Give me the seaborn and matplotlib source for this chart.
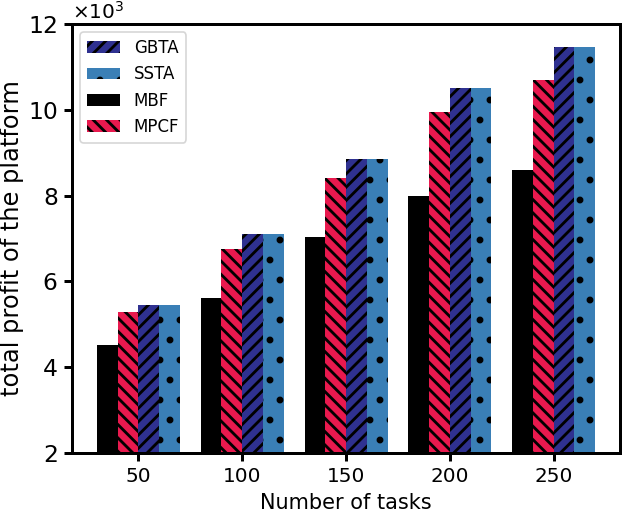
import matplotlib
matplotlib.use('Agg')
import matplotlib.pyplot as plt
import seaborn as sns
import pandas as pd
from matplotlib.patches import Patch

# ---- data ----
tasks = [50, 100, 150, 200, 250]
methods = ['MBF', 'MPCF', 'GBTA', 'SSTA']
mbf = [4520, 5620, 7030, 7980, 8600]
mpcf = [5280, 6760, 8410, 9950, 10690]
gbta = [5450, 7100, 8850, 10510, 11470]
ssta = [5450, 7100, 8850, 10510, 11470]
legend_order = ['GBTA', 'SSTA', 'MBF', 'MPCF']

colors = {'MBF': '#000000', 'MPCF': '#e8194e', 'GBTA': '#2f3190', 'SSTA': '#3a7fb6'}
hatches = {'MBF': '', 'MPCF': '\\\\\\', 'GBTA': '///', 'SSTA': '.'}

values = {'MBF': mbf, 'MPCF': mpcf, 'GBTA': gbta, 'SSTA': ssta}
rows = []
for m in methods:
    for t, v in zip(tasks, values[m]):
        rows.append({'tasks': t, 'profit': v, 'method': m})
df = pd.DataFrame(rows)

plt.rcParams['hatch.linewidth'] = 1.7
plt.rcParams['hatch.color'] = 'black'
plt.rcParams['font.family'] = ['DejaVu Sans']

fig = plt.figure(figsize=(622 / 120, 512 / 120), dpi=120)
ax = fig.add_axes([0.1158, 0.1152, 0.8810, 0.8379])

sns.barplot(data=df, x='tasks', y='profit', hue='method', hue_order=methods,
            palette=colors, native_scale=True, saturation=1, errorbar=None,
            width=0.8, legend=False, ax=ax)

for cont, m in zip(ax.containers, methods):
    for p in cont:
        p.set_hatch(hatches[m])
        p.set_edgecolor('black')
        p.set_linewidth(0)

ax.set_xlim(18, 282)
ax.set_ylim(2000, 12000)
ax.set_xticks(tasks)
ax.set_xticklabels([str(t) for t in tasks])
ax.set_yticks([2000, 4000, 6000, 8000, 10000, 12000])
ax.ticklabel_format(axis='y', style='sci', scilimits=(3, 3), useMathText=True)
ax.yaxis.get_offset_text().set_fontsize(12)

ax.tick_params(axis='x', labelsize=12, width=1.8, length=5)
ax.tick_params(axis='y', labelsize=14, width=1.8, length=5)
for s in ax.spines.values():
    s.set_linewidth(1.8)

ax.set_xlabel('Number of tasks', fontsize=12.5)
ax.set_ylabel('total profit of the platform', fontsize=14.5, labelpad=2)

handles = [Patch(facecolor=colors[m], edgecolor='black', linewidth=0,
                 hatch=hatches[m], label=m) for m in legend_order]
ax.legend(handles=handles, loc='upper left', fontsize=10)

fig.savefig('out.png', dpi=120)
